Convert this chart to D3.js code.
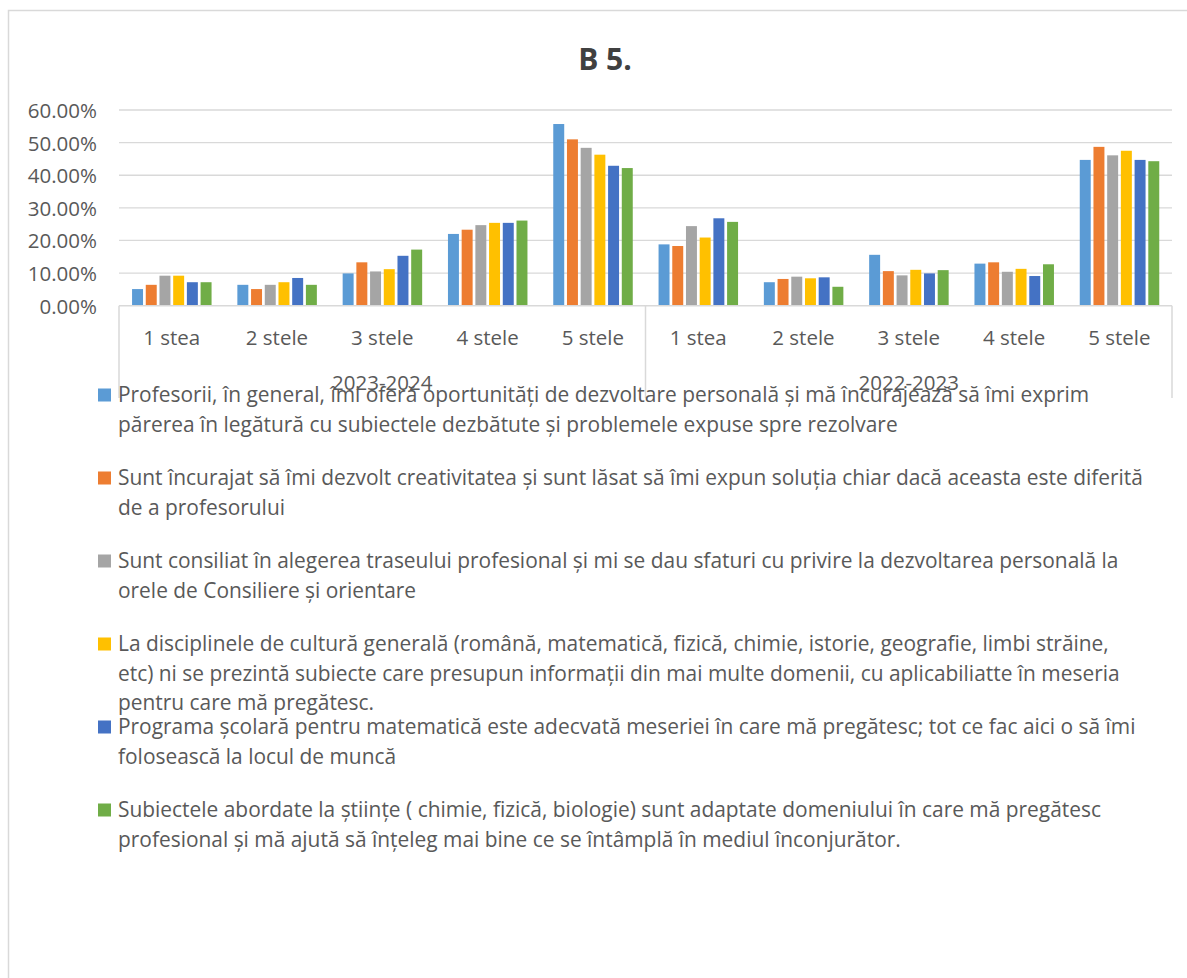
<!DOCTYPE html>
<html>
<head>
<meta charset="utf-8">
<script src="https://cdn.jsdelivr.net/npm/d3@7"></script>
<style>
  html, body { margin: 0; padding: 0; background: #fff; }
  svg { display: block; }
  text { font-family: "Open Sans", "Noto Sans", sans-serif; fill: #595959; }
</style>
</head>
<body>
<svg id="chart" width="1187" height="978"></svg>
<script>
// ---------------- DATA ----------------
const title = "B 5.";
const years = ["2023-2024", "2022-2023"];
const categories = ["1 stea", "2 stele", "3 stele", "4 stele", "5 stele"];
const yTicks = [0, 0.1, 0.2, 0.3, 0.4, 0.5, 0.6];

// values in percent, order: 2023-2024 (1..5 stele), 2022-2023 (1..5 stele)
const seriesProfesorii   = [5.1, 6.4, 9.9, 22.0, 55.7, 18.8, 7.2, 15.6, 12.9, 44.7];
const seriesCreativitate = [6.4, 5.1, 13.3, 23.3, 51.0, 18.3, 8.2, 10.6, 13.3, 48.7];
const seriesConsiliere   = [9.2, 6.4, 10.5, 24.7, 48.4, 24.4, 8.9, 9.3, 10.4, 46.1];
const seriesCultura      = [9.2, 7.2, 11.2, 25.4, 46.3, 20.9, 8.4, 11.0, 11.3, 47.5];
const seriesMatematica   = [7.2, 8.5, 15.3, 25.4, 42.9, 26.8, 8.7, 9.9, 9.1, 44.7];
const seriesStiinte      = [7.2, 6.4, 17.2, 26.1, 42.2, 25.7, 5.8, 10.9, 12.7, 44.3];

const seriesLabels = [
  ["Profesorii, în general, îmi oferă oportunități de dezvoltare personală și mă încurajează să îmi exprim",
   "părerea în legătură cu subiectele dezbătute și problemele expuse spre rezolvare"],
  ["Sunt încurajat să îmi dezvolt creativitatea și sunt lăsat să îmi expun soluția chiar dacă aceasta este diferită",
   "de a profesorului"],
  ["Sunt consiliat în alegerea traseului profesional și mi se dau sfaturi cu privire la dezvoltarea personală la",
   "orele de Consiliere și orientare"],
  ["La disciplinele de cultură generală (română, matematică, fizică, chimie, istorie, geografie, limbi străine,",
   "etc) ni se prezintă subiecte care presupun informații din mai multe domenii, cu aplicabiliatte în meseria",
   "pentru care mă pregătesc."],
  ["Programa școlară pentru matematică este adecvată meseriei în care mă pregătesc; tot ce fac aici o să îmi",
   "folosească la locul de muncă"],
  ["Subiectele abordate la științe ( chimie, fizică, biologie) sunt adaptate domeniului în care mă pregătesc",
   "profesional și mă ajută să înțeleg mai bine ce se întâmplă în mediul înconjurător."]
];
const colors = ["#5B9BD5", "#ED7D31", "#A5A5A5", "#FFC000", "#4472C4", "#70AD47"];

// ---------------- BUILD ----------------
const allSeries = [seriesProfesorii, seriesCreativitate, seriesConsiliere, seriesCultura, seriesMatematica, seriesStiinte];
const series = allSeries.map((vals, i) => ({ index: i, color: colors[i], lines: seriesLabels[i], values: vals }));

const svg = d3.select("#chart");
const plot = { left: 119, right: 1172, top: 110, bottom: 305.7 };
const textColor = "#595959", gridColor = "#D9D9D9";

// outer chart border (extends past the picture on right and bottom)
svg.append("rect")
  .attr("x", 8.5).attr("y", 10.5).attr("width", 1400).attr("height", 1200)
  .attr("fill", "#fff").attr("stroke", gridColor).attr("stroke-width", 1.5);

// title
svg.append("text")
  .attr("x", 605).attr("y", 70)
  .attr("text-anchor", "middle")
  .style("font-size", "30px").style("font-weight", "bold")
  .style("fill", "#404040")
  .text(title);

// scales
const y = d3.scaleLinear().domain([0, 0.6]).range([plot.bottom, plot.top]);
const xYear = d3.scaleBand().domain(years).range([plot.left, plot.right]).paddingInner(0).paddingOuter(0);
const xCat = d3.scaleBand().domain(categories).range([0, xYear.bandwidth()]).paddingInner(0).paddingOuter(0);
const cw = xCat.bandwidth();
const xSer = d3.scaleBand().domain(series.map(s => s.index)).range([cw * 0.124, cw * 0.879]).paddingInner(0.2).paddingOuter(0);

// gridlines
svg.append("g")
  .selectAll("line")
  .data(yTicks.filter(t => t > 0))
  .join("line")
  .attr("x1", plot.left).attr("x2", plot.right)
  .attr("y1", d => y(d)).attr("y2", d => y(d))
  .attr("stroke", gridColor).attr("stroke-width", 1.3);

// y axis labels
const yAxis = d3.axisLeft(y).tickValues(yTicks).tickFormat(d3.format(".2%")).tickSize(0).tickPadding(0);
const yg = svg.append("g").attr("transform", `translate(97,0)`).call(yAxis);
yg.select(".domain").remove();
yg.selectAll("text")
  .style("font-family", '"Open Sans", sans-serif')
  .style("font-size", "20.5px")
  .style("fill", textColor)
  .attr("dy", "0.36em");

// bars
const flat = [];
series.forEach(s => {
  years.forEach((yr, yi) => {
    categories.forEach((c, ci) => {
      flat.push({ s, yr, c, v: s.values[yi * categories.length + ci] / 100 });
    });
  });
});
svg.append("g")
  .selectAll("rect")
  .data(flat)
  .join("rect")
  .attr("x", d => xYear(d.yr) + xCat(d.c) + xSer(d.s.index))
  .attr("width", xSer.bandwidth())
  .attr("y", d => y(d.v))
  .attr("height", d => y(0) - y(d.v))
  .attr("fill", d => d.s.color);

// category axis: baseline + box dividers
const axisBottom = 398;
svg.append("line")
  .attr("x1", plot.left).attr("x2", plot.right)
  .attr("y1", y(0)).attr("y2", y(0))
  .attr("stroke", gridColor).attr("stroke-width", 1.5);
const dividers = years.map(yr => xYear(yr)).concat([xYear(years[years.length - 1]) + xYear.bandwidth()]);
svg.append("g").selectAll("line")
  .data(dividers)
  .join("line")
  .attr("x1", d => d).attr("x2", d => d)
  .attr("y1", y(0)).attr("y2", axisBottom)
  .attr("stroke", gridColor).attr("stroke-width", 1.5);

// category labels
const catLabels = [];
years.forEach(yr => categories.forEach(c => catLabels.push({ yr, c })));
svg.append("g").selectAll("text")
  .data(catLabels)
  .join("text")
  .attr("x", d => xYear(d.yr) + xCat(d.c) + cw / 2)
  .attr("y", 345)
  .attr("text-anchor", "middle")
  .style("font-size", "20.5px")
  .text(d => d.c);

// year labels
svg.append("g").selectAll("text")
  .data(years)
  .join("text")
  .attr("x", d => xYear(d) + xYear.bandwidth() / 2)
  .attr("y", 390)
  .attr("text-anchor", "middle")
  .style("font-size", "20.5px")
  .text(d => d);

// legend
const legStartY = 395, legStep = 83, lineH = 29.5, textX = 118, targetW = 972;
const leg = svg.append("g");
const items = leg.selectAll("g.item")
  .data(series)
  .join("g")
  .attr("class", "item")
  .attr("transform", (d, i) => `translate(0, ${legStartY + i * legStep})`);
items.append("rect")
  .attr("x", 98).attr("y", -6.5).attr("width", 13).attr("height", 13)
  .attr("fill", d => d.color);
const texts = items.append("text")
  .attr("x", textX)
  .style("font-size", "18px");
texts.selectAll("tspan")
  .data(d => d.lines)
  .join("tspan")
  .attr("x", textX)
  .attr("y", (d, i) => i * lineH + 7)
  .text(d => d);

// fit legend font size to match the reference line width
const probe = texts.filter((d, i) => i === 0).select("tspan").node();
const w0 = probe.getComputedTextLength();
const fs = 18 * targetW / w0;
texts.style("font-size", fs + "px");
</script>
</body>
</html>
